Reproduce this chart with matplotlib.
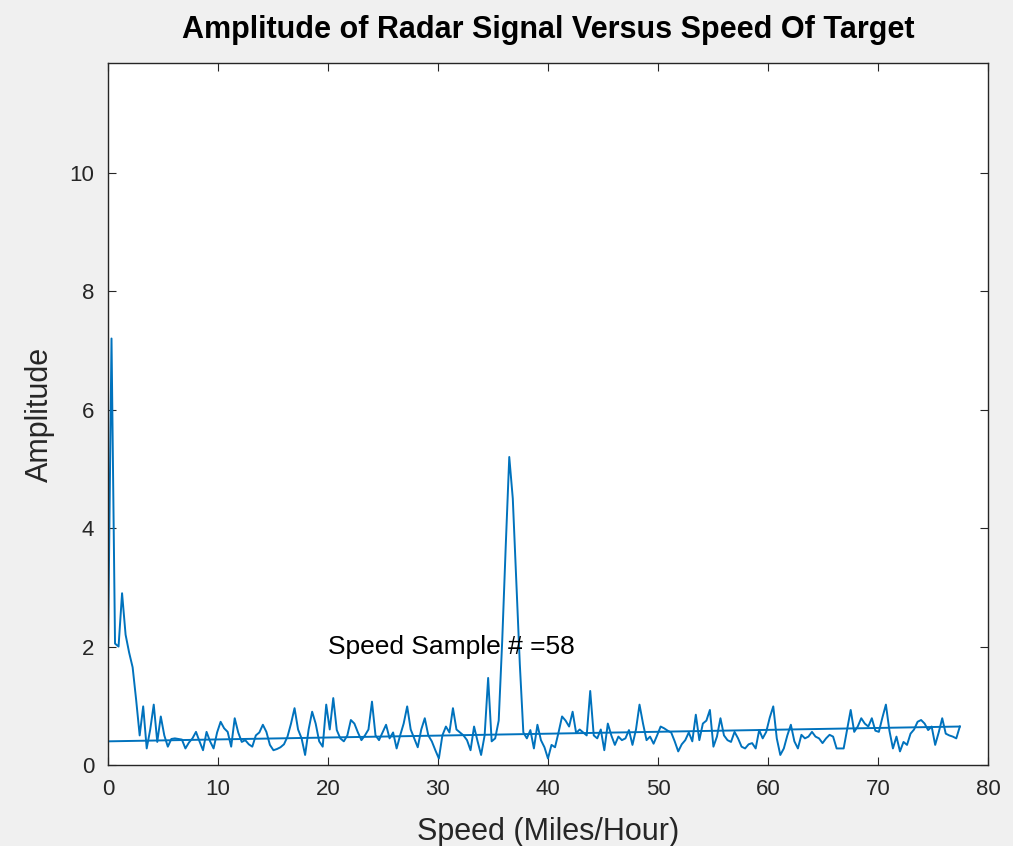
import numpy as np
import matplotlib
matplotlib.use("Agg")
import matplotlib.pyplot as plt

# Radar return amplitude sampled on a uniform speed grid (mph)
speed_step = 0.32
amplitude = [
    1.9, 7.2, 2.05, 2.0, 2.9, 2.2, 1.9, 1.65, 1.1, 0.5,
    0.99, 0.28, 0.6, 1.02, 0.39, 0.82, 0.5, 0.31, 0.44, 0.45,
    0.44, 0.43, 0.28, 0.38, 0.45, 0.56, 0.4, 0.25, 0.56, 0.4,
    0.28, 0.55, 0.73, 0.62, 0.56, 0.31, 0.79, 0.55, 0.39, 0.42,
    0.35, 0.31, 0.5, 0.55, 0.68, 0.56, 0.34, 0.25, 0.27, 0.3,
    0.35, 0.48, 0.7, 0.96, 0.6, 0.45, 0.17, 0.6, 0.9, 0.7,
    0.4, 0.31, 1.02, 0.6, 1.13, 0.59, 0.45, 0.4, 0.5, 0.76,
    0.7, 0.55, 0.42, 0.5, 0.6, 1.07, 0.5, 0.42, 0.55, 0.68,
    0.45, 0.55, 0.28, 0.5, 0.7, 0.99, 0.6, 0.45, 0.3, 0.6,
    0.79, 0.5, 0.4, 0.25, 0.11, 0.5, 0.65, 0.55, 0.96, 0.6,
    0.55, 0.5, 0.42, 0.25, 0.65, 0.4, 0.17, 0.5, 1.47, 0.4,
    0.45, 0.75, 2.1, 3.7, 5.2, 4.5, 3.1, 1.7, 0.55, 0.45,
    0.59, 0.28, 0.68, 0.42, 0.3, 0.11, 0.34, 0.3, 0.55, 0.82,
    0.75, 0.65, 0.9, 0.54, 0.6, 0.55, 0.5, 1.25, 0.5, 0.45,
    0.6, 0.25, 0.7, 0.5, 0.34, 0.48, 0.42, 0.45, 0.59, 0.34,
    0.6, 1.02, 0.7, 0.42, 0.48, 0.36, 0.5, 0.65, 0.62, 0.58,
    0.55, 0.4, 0.23, 0.35, 0.42, 0.55, 0.4, 0.85, 0.42, 0.7,
    0.75, 0.93, 0.31, 0.48, 0.79, 0.5, 0.42, 0.39, 0.56, 0.45,
    0.31, 0.28, 0.35, 0.37, 0.28, 0.59, 0.45, 0.56, 0.8, 0.99,
    0.45, 0.17, 0.28, 0.5, 0.68, 0.4, 0.28, 0.51, 0.45, 0.48,
    0.56, 0.48, 0.45, 0.37, 0.45, 0.51, 0.48, 0.28, 0.28, 0.28,
    0.6, 0.93, 0.56, 0.65, 0.79, 0.7, 0.65, 0.79, 0.58, 0.56,
    0.8, 1.02, 0.58, 0.28, 0.48, 0.23, 0.39, 0.34, 0.53, 0.6,
    0.73, 0.76, 0.7, 0.59, 0.65, 0.34, 0.55, 0.79, 0.53, 0.5,
    0.48, 0.45, 0.65,
]
speed = np.arange(len(amplitude)) * speed_step

# Straight trend line across the record (end values)
trend_values = [0.40, 0.65]

peak_sample = 58
annot_pos = (20, 2)

x_ticks = [0, 10, 20, 30, 40, 50, 60, 70, 80]
y_ticks = [0, 2, 4, 6, 8, 10]
x_limits = (0, 80)
y_limits = (0, 11.85)

title = "Amplitude of Radar Signal Versus Speed Of Target"
x_label = "Speed (Miles/Hour)"
y_label = "Amplitude"

line_color = "#0072BD"
ink = "#262626"

plt.rcParams["font.family"] = ["Liberation Sans", "DejaVu Sans"]

fig = plt.figure(figsize=(10.13, 8.46), dpi=100, facecolor="#f0f0f0")
ax = fig.add_axes([0.1066, 0.0957, 0.8687, 0.8298])
ax.set_facecolor("white")

ax.plot(speed, amplitude, color=line_color, lw=1.4)
ax.plot([speed[0], speed[-1]], trend_values, color=line_color, lw=1.4)

ax.text(annot_pos[0], annot_pos[1], f"Speed Sample # ={peak_sample}",
        ha="left", va="center", fontsize=19, color="black")

ax.set_xlim(*x_limits)
ax.set_ylim(*y_limits)
ax.set_xticks(x_ticks)
ax.set_yticks(y_ticks)
ax.tick_params(direction="in", top=True, right=True, length=6, width=0.8,
               colors=ink, labelsize=16, pad=10)
for s in ax.spines.values():
    s.set_color(ink)
    s.set_linewidth(1.0)

ax.set_xlabel(x_label, fontsize=22, color=ink, va="center")
ax.xaxis.set_label_coords(0.5, -0.0954)
ax.set_ylabel(y_label, fontsize=22, color=ink, va="center")
ax.yaxis.set_label_coords(-0.0773, 0.5)

ax.set_title(title, fontsize=22, fontweight="bold", color="black",
             y=1.0356, va="center")

fig.savefig("out.png", dpi=100, facecolor=fig.get_facecolor())
